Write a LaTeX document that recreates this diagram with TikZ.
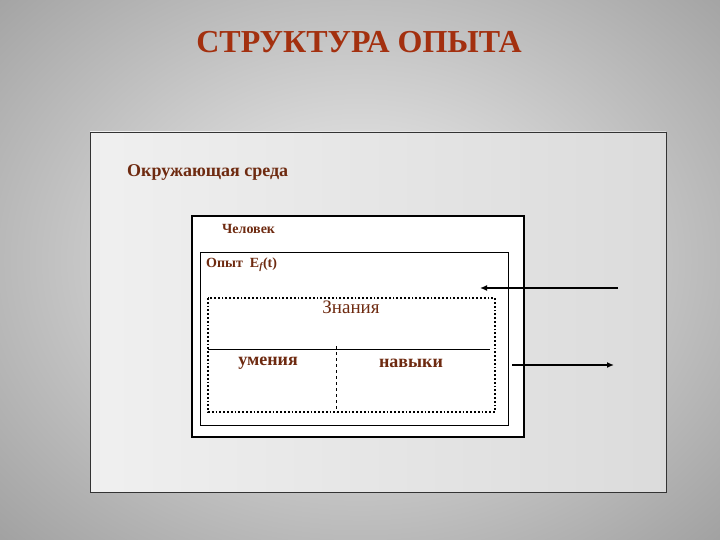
\documentclass[tikz,border=0pt]{standalone}
\usepackage{fontspec}
\usetikzlibrary{arrows.meta}
\setmainfont{Liberation Serif}
\definecolor{titlered}{HTML}{A3300F}
\definecolor{labbrown}{HTML}{6E2A10}
\tikzset{
  lab/.style={text=labbrown, font=\bfseries, inner sep=0pt},
  arr/.style={-{Latex[length=7pt,width=6pt]}, line width=1.8pt},
}
\begin{document}
\begin{tikzpicture}[x=1pt,y=-1pt]
\useasboundingbox (0,0) rectangle (720,540);
\shade[inner color=gray!10, outer color=gray!80] (-200,-180) rectangle (920,700);
% environment
\shade[left color=gray!12, right color=gray!28, draw=black!80, line width=0.8pt] (90,132) rectangle (666,492);
\node[lab, anchor=west, font=\bfseries\fontsize{18}{21}\selectfont] (env) at (127,172) {Окружающая среда};
% title
\node[text=titlered, font=\bfseries\fontsize{32}{38}\selectfont, inner sep=0pt] (title) at (359,42) {СТРУКТУРА ОПЫТА};
% person
\draw[fill=white, line width=2pt] (192,216) rectangle (524,437);
\node[lab, anchor=west, font=\bfseries\fontsize{14}{16}\selectfont] (person) at (222,229) {Человек};
% experience
\draw[fill=white, line width=0.7pt] (200,252) rectangle (508,425);
\node[lab, anchor=west, font=\bfseries\fontsize{14}{16}\selectfont] (exp) at (206,265) {Опыт\ \ E\textsubscript{\itshape f}(t)};
% knowledge box
\draw[line width=1.8pt, dotted] (208,298) rectangle (495,412);
\draw[line width=0.7pt] (208,349) -- (490,349);
\draw[line width=0.7pt, dashed] (336,346) -- (336,412);
\node[text=labbrown, font=\fontsize{19}{22}\selectfont, inner sep=0pt] (know) at (351,307) {Знания};
\node[lab, font=\bfseries\fontsize{18}{21}\selectfont] (skill) at (268,363) {умения};
\node[lab, font=\bfseries\fontsize{18}{21}\selectfont] (habit) at (411,363) {навыки};
% arrows
\coordinate (inS) at (618,288);
\coordinate (inE) at (480,288);
\coordinate (outS) at (512,365);
\coordinate (outE) at (614,365);
\draw[arr] (inS) -- (inE);
\draw[arr] (outS) -- (outE);
\end{tikzpicture}
\end{document}
